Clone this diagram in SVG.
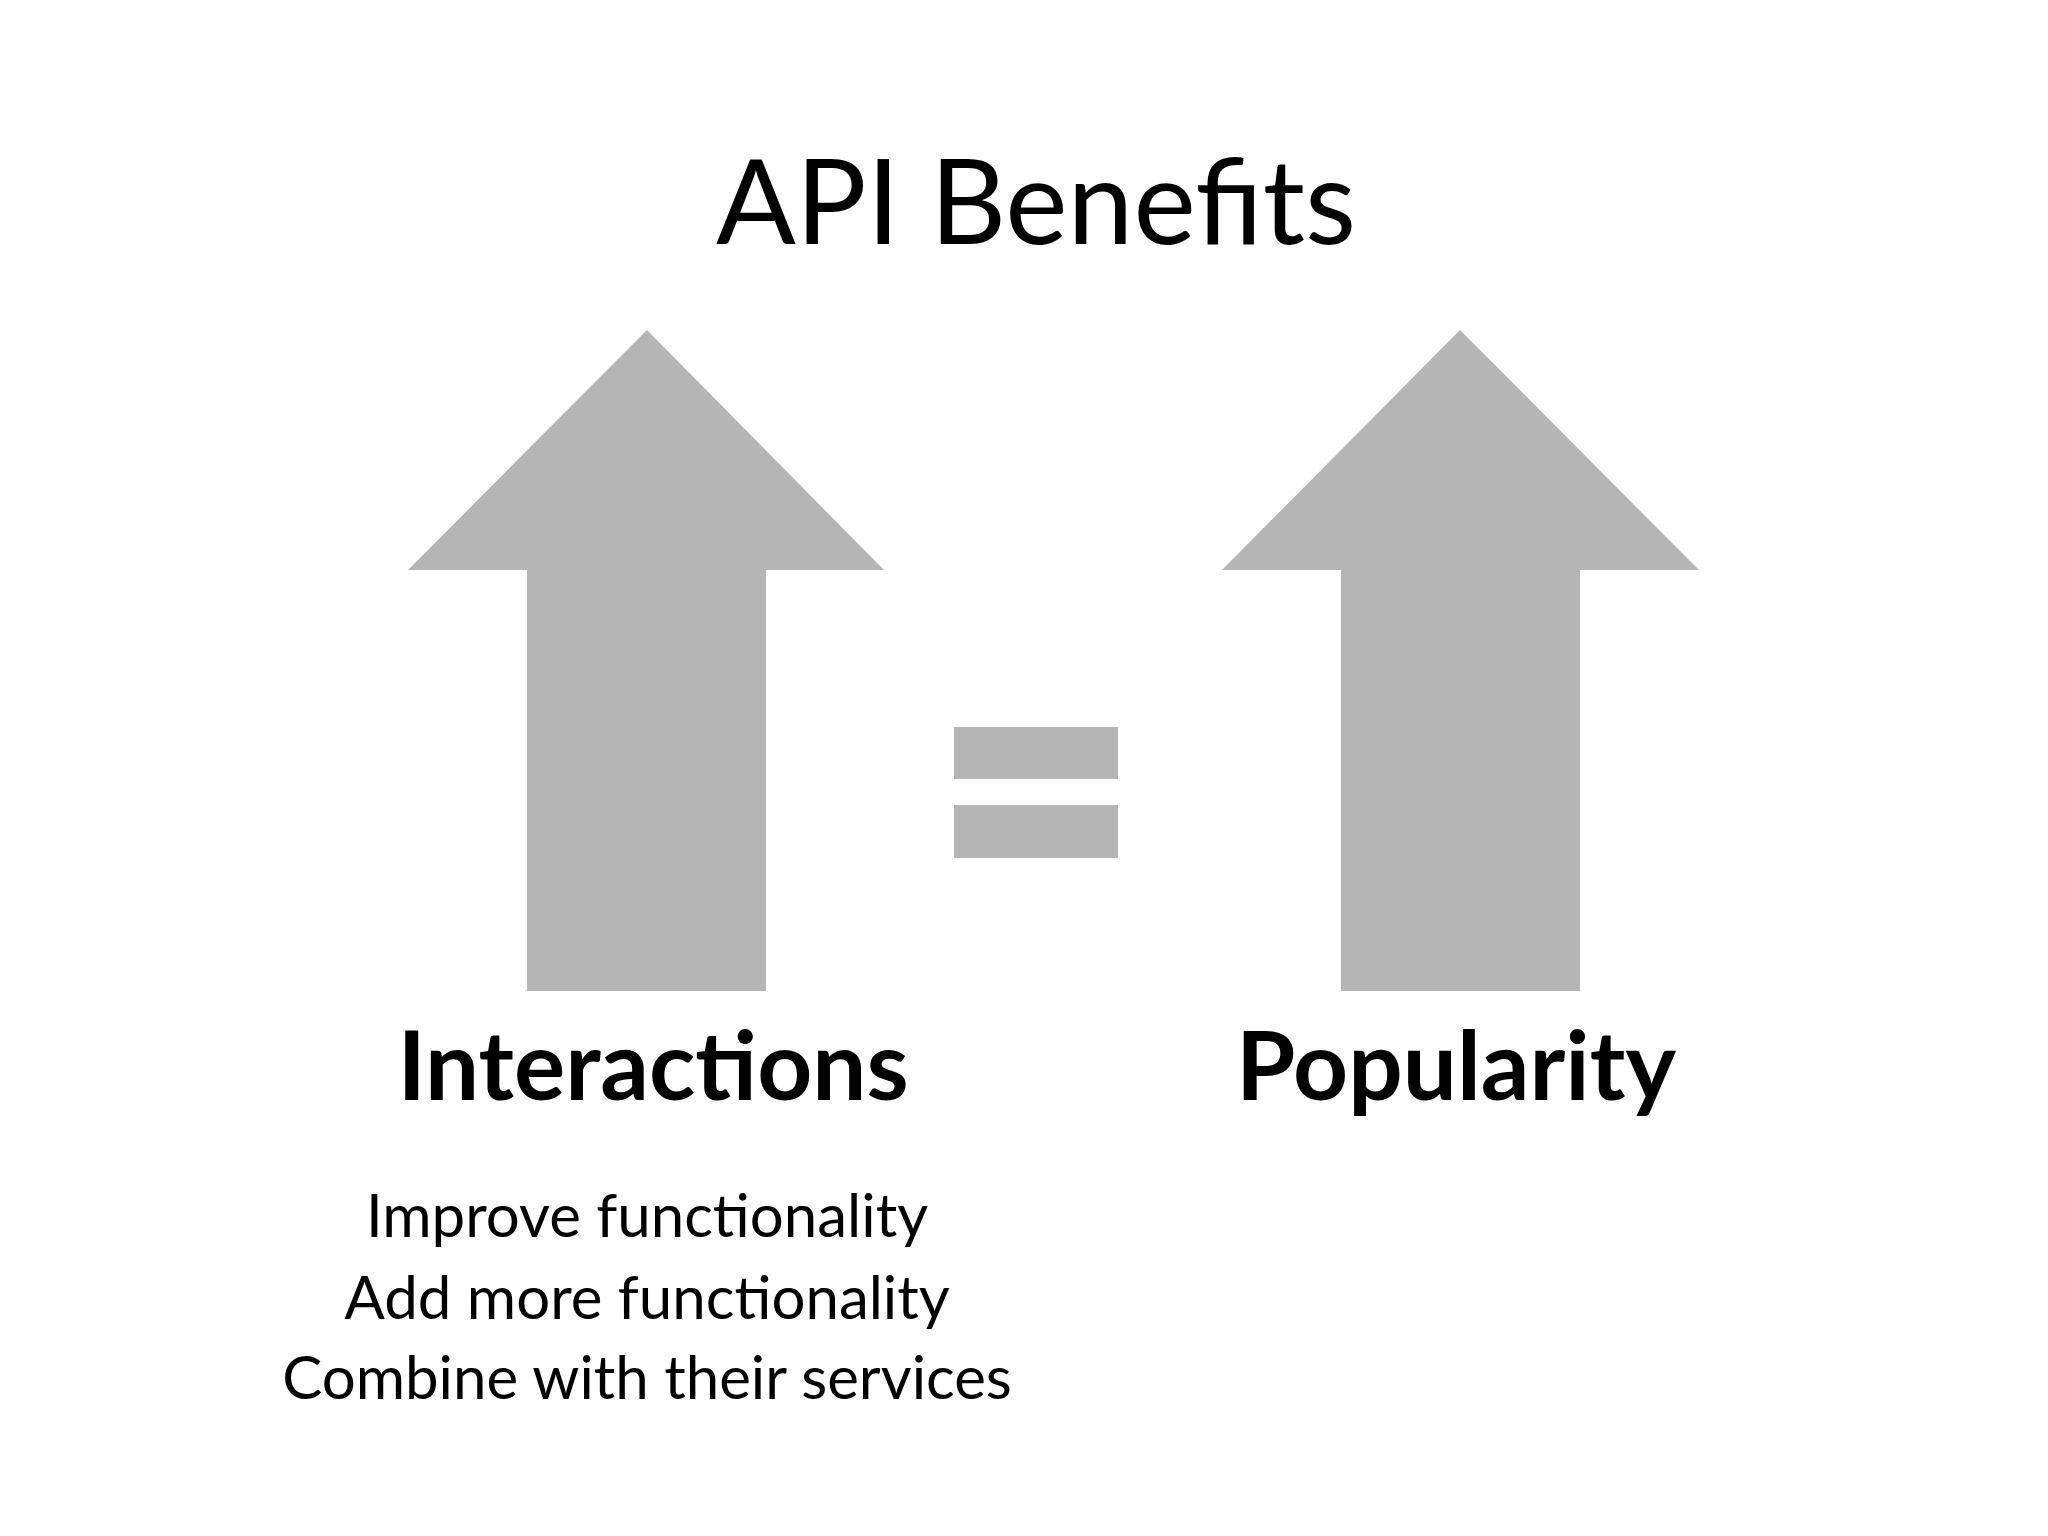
<svg xmlns="http://www.w3.org/2000/svg" width="2048" height="1536" viewBox="0 0 2048 1536">
<style>
.sh{fill:#b5b5b5}
text{font-family:Lato,"Open Sans","Liberation Sans",sans-serif;fill:#000;text-anchor:middle}
.t{font-size:118px}
.b{font-size:96px;font-weight:bold}
.s{font-size:60px}
</style>
<rect width="2048" height="1536" fill="#fff"/>
<g id="title"><text class="t" x="1036" y="244">API Benefits</text></g>
<g id="arrow-left"><polygon class="sh" points="647,330 884,570 766,570 766,991 527,991 527,570 408,570"/></g>
<g id="arrow-right"><polygon class="sh" points="1460,330 1699,570 1580,570 1580,991 1341,991 1341,570 1222,570"/></g>
<g id="equals"><rect class="sh" x="954" y="727" width="164" height="52"/><rect class="sh" x="954" y="805" width="164" height="53"/></g>
<g id="interactions"><text class="b" x="653" y="1100">Interactions</text>
<text class="s" x="647" y="1237">Improve functionality</text>
<text class="s" x="647" y="1319">Add more functionality</text>
<text class="s" x="647" y="1399">Combine with their services</text></g>
<g id="popularity"><text class="b" x="1456" y="1100">Popularity</text></g>
<g id="connectors"/>
</svg>
